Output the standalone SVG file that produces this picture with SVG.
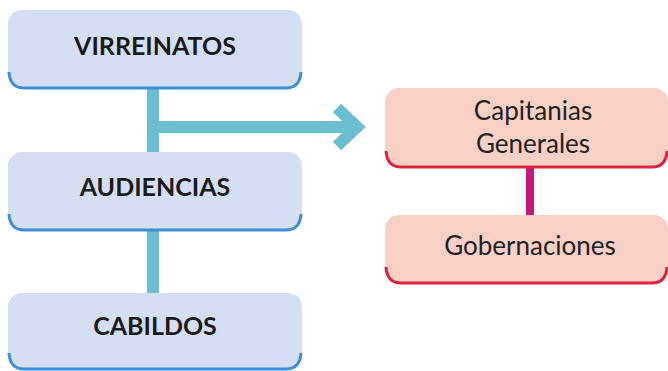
<svg xmlns="http://www.w3.org/2000/svg" width="668" height="371" viewBox="0 0 668 371">
<style>
.bn{fill:#d5dff3;}
.bb{fill:none;stroke:#3d8ed2;stroke-width:3;}
.pn{fill:#f9d0c6;}
.pb{fill:none;stroke:#e0233c;stroke-width:3;}
.t1{font-family:Lato,"Open Sans",sans-serif;font-weight:bold;font-size:25px;fill:#1a1a1a;text-anchor:middle;}
.t2{font-family:Lato,"Open Sans",sans-serif;font-size:26px;fill:#222;text-anchor:middle;}
</style>
<rect width="668" height="371" fill="#fff"/>
<g id="connectors">
<path d="M153 86 V295 M153 127 H355" stroke="#6bbdd0" stroke-width="12" fill="none"/>
<path d="M337 108 L357 127 L337 146" stroke="#6bbdd0" stroke-width="12" fill="none"/>
<path d="M530 166 V216" stroke="#c5187e" stroke-width="8" fill="none"/>
</g>
<g id="virreinatos">
<rect class="bn" x="8" y="10" width="294" height="78" rx="14"/>
<path class="bb" d="M9 72 Q10 88 24 88 H286 Q300 88 301 72"/>
<text class="t1" x="155" y="55">VIRREINATOS</text>
</g>
<g id="audiencias">
<rect class="bn" x="8" y="152" width="294" height="78" rx="14"/>
<path class="bb" d="M9 214 Q10 230 24 230 H286 Q300 230 301 214"/>
<text class="t1" x="155" y="196">AUDIENCIAS</text>
</g>
<g id="cabildos">
<rect class="bn" x="8" y="293" width="294" height="76" rx="14"/>
<path class="bb" d="M9 353 Q10 369 24 369 H286 Q300 369 301 353"/>
<text class="t1" x="155" y="335">CABILDOS</text>
</g>
<g id="capitanias">
<rect class="pn" x="385" y="88" width="283" height="79" rx="14"/>
<path class="pb" d="M386 151 Q387 167 401 167 H652 Q666 167 667 151"/>
<text class="t2" x="533" y="120">Capitanias</text>
<text class="t2" x="533" y="153">Generales</text>
</g>
<g id="gobernaciones">
<rect class="pn" x="385" y="215" width="283" height="68" rx="14"/>
<path class="pb" d="M386 267 Q387 283 401 283 H652 Q666 283 667 267"/>
<text class="t2" x="530" y="255">Gobernaciones</text>
</g>
</svg>
